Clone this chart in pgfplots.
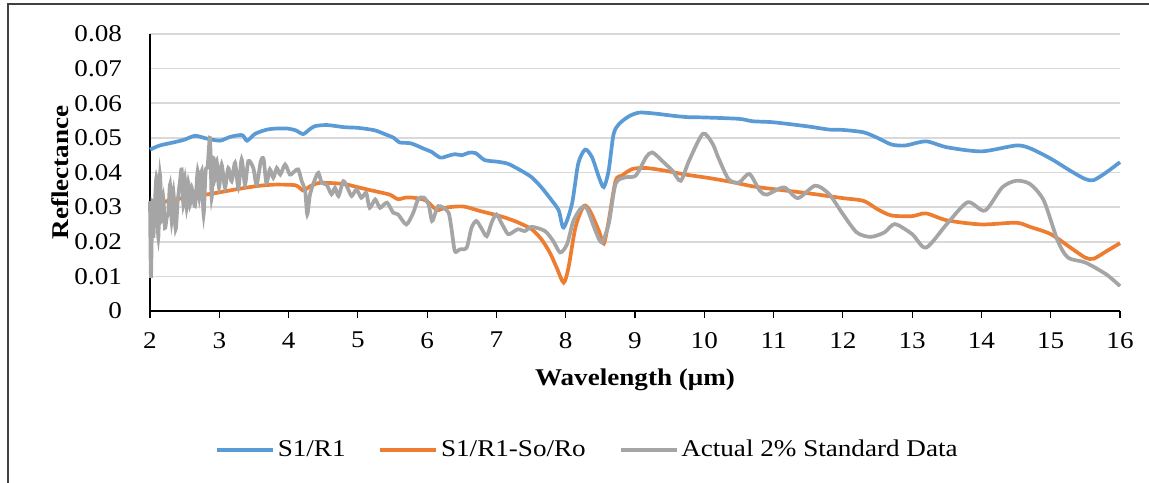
\documentclass[border=0pt]{standalone}
\usepackage{fontspec}
\setmainfont{Liberation Serif}[FakeStretch=1.13]
\usepackage{pgfplots}
\pgfplotsset{compat=1.18}
\definecolor{cblue}{HTML}{5B9BD5}
\definecolor{corange}{HTML}{ED7D31}
\definecolor{cgray}{HTML}{A5A5A5}
\definecolor{cgrid}{HTML}{D9D9D9}
\begin{document}
\begin{tikzpicture}
\useasboundingbox (-75bp,-86bp) rectangle (499.5bp,155.5bp);
\draw[black!75, line width=0.8bp] (-71bp,-95bp) -- (-71bp,153.5bp) -- (510bp,153.5bp);
\begin{axis}[
  at={(0,0)}, anchor=south west,
  scale only axis, width=485bp, height=138.5bp,
  xmin=2, xmax=16, ymin=0, ymax=0.08,
  clip=false,
  scaled y ticks=false,
  axis lines*=left,
  axis line style={black, line width=0.6bp},
  font=\fontsize{12bp}{14bp}\selectfont,
  /pgf/number format/assume math mode=true,
  xtick={2,3,...,16},
  ytick={0,0.01,0.02,0.03,0.04,0.05,0.06,0.07,0.08},
  yticklabels={0,0.01,0.02,0.03,0.04,0.05,0.06,0.07,0.08},
  tick align=outside,
  major tick length=3.5bp,
  xtick style={black, line width=0.6bp},
  ytick style={draw=none},
  yticklabel style={xshift=-7bp},
  xticklabel style={yshift=-3.6bp},
  ymajorgrids,
  grid style={cgrid, line width=0.8bp},
  every axis y label/.style={at={(axis description cs:-0.0928,0.5)}, rotate=90, anchor=center, font=\fontsize{12bp}{14bp}\selectfont\bfseries},
  every axis x label/.style={at={(axis description cs:0.5,-0.249)}, anchor=center, font=\fontsize{12bp}{14bp}\selectfont\bfseries},
  xlabel={Wavelength (μm)},
  ylabel={Reflectance},
  legend style={at={(axis description cs:0.4515,-0.502)}, anchor=center, draw=none, fill=none,
    legend columns=3, font=\fontsize{12bp}{14bp}\selectfont,
    /tikz/every even column/.append style={column sep=15bp},
    nodes={inner sep=1.5bp}},
  legend image code/.code={\draw[#1, line width=1.75bp] (0bp,0bp) -- (28bp,0bp);},
  every axis plot/.append style={line width=1.85bp, smooth, tension=0.45},
]
\addplot[cblue] coordinates {
(2.00,0.0466)(2.14,0.0478)(2.34,0.0487)(2.50,0.0495)(2.65,0.0506)(2.82,0.0498)
(3.01,0.0492)(3.16,0.0503)(3.33,0.0508)(3.40,0.0492)(3.52,0.0512)(3.69,0.0524)
(3.83,0.0527)(3.98,0.0527)(4.10,0.0522)(4.21,0.0511)(4.30,0.0524)(4.38,0.0534)
(4.56,0.0537)(4.80,0.0531)(5.00,0.0529)(5.24,0.0522)(5.40,0.0510)(5.52,0.0500)
(5.60,0.0487)(5.77,0.0484)(5.96,0.0468)(6.06,0.0460)(6.19,0.0443)(6.30,0.0448)
(6.40,0.0453)(6.50,0.0450)(6.60,0.0457)(6.70,0.0456)(6.83,0.0436)(7.02,0.0431)
(7.17,0.0425)(7.36,0.0405)(7.51,0.0386)(7.65,0.0357)(7.80,0.0319)(7.90,0.0290)
(7.97,0.0241)(8.09,0.0309)(8.18,0.0425)(8.28,0.0466)(8.38,0.0444)(8.48,0.0386)
(8.55,0.0358)(8.62,0.0406)(8.69,0.0510)(8.77,0.0540)(8.91,0.0562)(9.06,0.0573)
(9.30,0.0570)(9.50,0.0565)(9.75,0.0560)(10.00,0.0559)(10.50,0.0555)(10.70,0.0548)
(11.00,0.0545)(11.50,0.0533)(11.80,0.0524)(12.00,0.0523)(12.30,0.0516)(12.50,0.0500)
(12.70,0.0481)(12.90,0.0478)(13.20,0.0490)(13.50,0.0473)(14.00,0.0461)(14.50,0.0478)
(14.70,0.0470)(15.00,0.0440)(15.30,0.0403)(15.50,0.0381)(15.62,0.0378)(15.80,0.0400)
(16.00,0.0430)
};
\addlegendentry{S1/R1}
\addplot[corange] coordinates {
(2.00,0.0305)(2.15,0.0312)(2.30,0.0320)(2.50,0.0327)(2.77,0.0335)(3.01,0.0343)
(3.26,0.0352)(3.55,0.0361)(3.79,0.0365)(4.10,0.0363)(4.21,0.0348)(4.31,0.0360)
(4.45,0.0370)(4.79,0.0367)(5.03,0.0356)(5.27,0.0345)(5.46,0.0336)(5.58,0.0323)
(5.70,0.0328)(5.85,0.0326)(5.99,0.0318)(6.14,0.0292)(6.28,0.0299)(6.52,0.0302)
(6.76,0.0289)(6.96,0.0279)(7.12,0.0270)(7.31,0.0256)(7.51,0.0236)(7.65,0.0207)
(7.77,0.0169)(7.87,0.0125)(7.97,0.0082)(8.04,0.0125)(8.14,0.0241)(8.26,0.0303)
(8.35,0.0289)(8.48,0.0231)(8.55,0.0195)(8.62,0.0260)(8.72,0.0376)(8.81,0.0391)
(8.96,0.0410)(9.16,0.0413)(9.44,0.0405)(9.73,0.0394)(10.07,0.0384)(10.41,0.0372)
(10.70,0.0360)(11.00,0.0352)(11.50,0.0340)(12.00,0.0326)(12.30,0.0318)(12.50,0.0294)
(12.70,0.0276)(13.00,0.0274)(13.20,0.0282)(13.50,0.0262)(14.00,0.0250)(14.50,0.0255)
(14.70,0.0243)(15.00,0.0222)(15.30,0.0181)(15.50,0.0154)(15.62,0.0151)(15.80,0.0172)
(16.00,0.0196)
};
\addlegendentry{S1/R1-So/Ro}
\addplot[cgray] coordinates {
(2.000,0.0317)(2.014,0.0096)(2.034,0.0317)(2.048,0.0212)(2.072,0.0317)(2.096,0.0385)
(2.120,0.0212)(2.144,0.0394)(2.168,0.0260)(2.192,0.0327)(2.216,0.0240)(2.240,0.0269)
(2.265,0.0288)(2.289,0.0365)(2.313,0.0260)(2.337,0.0346)(2.370,0.0236)(2.400,0.0317)
(2.433,0.0375)(2.457,0.0409)(2.481,0.0308)(2.505,0.0380)(2.529,0.0298)(2.553,0.0370)
(2.577,0.0308)(2.601,0.0356)(2.649,0.0303)(2.688,0.0404)(2.712,0.0327)(2.746,0.0404)
(2.774,0.0279)(2.803,0.0404)(2.832,0.0418)(2.866,0.0500)(2.890,0.0327)(2.914,0.0442)
(2.938,0.0385)(2.962,0.0433)(2.996,0.0356)(3.034,0.0423)(3.082,0.0356)(3.130,0.0413)
(3.178,0.0375)(3.227,0.0428)(3.275,0.0356)(3.323,0.0438)(3.371,0.0365)(3.419,0.0433)
(3.491,0.0413)(3.539,0.0365)(3.600,0.0433)(3.640,0.0438)(3.680,0.0370)(3.730,0.0409)
(3.780,0.0385)(3.830,0.0413)(3.880,0.0394)(3.950,0.0423)(4.020,0.0394)(4.090,0.0404)
(4.140,0.0409)(4.190,0.0375)(4.240,0.0346)(4.270,0.0279)(4.310,0.0337)(4.380,0.0380)
(4.430,0.0399)(4.480,0.0370)(4.550,0.0365)(4.620,0.0337)(4.670,0.0356)(4.720,0.0332)
(4.790,0.0375)(4.850,0.0356)(4.910,0.0332)(4.980,0.0351)(5.050,0.0327)(5.120,0.0341)
(5.170,0.0298)(5.250,0.0322)(5.320,0.0298)(5.420,0.0313)(5.510,0.0284)(5.580,0.0279)
(5.700,0.0250)(5.800,0.0284)(5.870,0.0323)(5.950,0.0328)(6.020,0.0308)(6.070,0.0260)
(6.120,0.0284)(6.160,0.0303)(6.230,0.0299)(6.310,0.0284)(6.350,0.0240)(6.400,0.0173)
(6.470,0.0178)(6.570,0.0183)(6.640,0.0240)(6.710,0.0260)(6.780,0.0240)(6.860,0.0216)
(6.930,0.0255)(7.000,0.0279)(7.070,0.0255)(7.150,0.0226)(7.190,0.0222)(7.310,0.0236)
(7.410,0.0231)(7.510,0.0243)(7.700,0.0231)(7.820,0.0202)(7.920,0.0169)(8.020,0.0193)
(8.110,0.0260)(8.230,0.0299)(8.310,0.0294)(8.430,0.0231)(8.520,0.0198)(8.620,0.0251)
(8.720,0.0367)(8.860,0.0386)(9.010,0.0391)(9.160,0.0444)(9.250,0.0458)(9.390,0.0434)
(9.540,0.0405)(9.660,0.0376)(9.780,0.0434)(9.980,0.0512)(10.120,0.0483)(10.200,0.0444)
(10.350,0.0381)(10.500,0.0371)(10.650,0.0396)(10.800,0.0348)(10.900,0.0336)(11.150,0.0357)
(11.350,0.0326)(11.600,0.0362)(11.800,0.0338)(12.000,0.0280)(12.200,0.0227)(12.400,0.0214)
(12.600,0.0227)(12.750,0.0251)(13.000,0.0222)(13.200,0.0183)(13.500,0.0251)(13.800,0.0314)
(14.050,0.0290)(14.300,0.0357)(14.500,0.0376)(14.700,0.0367)(14.900,0.0319)(15.100,0.0203)
(15.250,0.0154)(15.500,0.0140)(15.800,0.0106)(16.000,0.0072)
};
\addlegendentry{Actual 2\% Standard Data}
\end{axis}
\end{tikzpicture}
\end{document}
